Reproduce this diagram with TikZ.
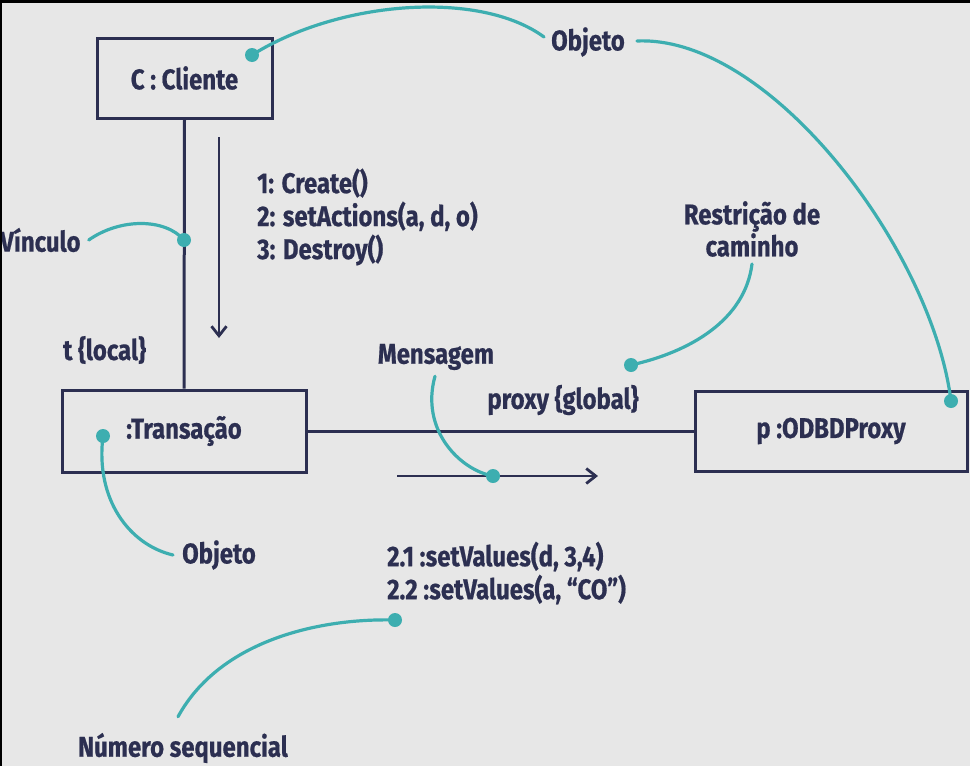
\documentclass[tikz,border=0pt]{standalone}
\usepackage{fontspec}
\setmainfont{Fira Sans}[BoldFont={Fira Sans Bold},FakeStretch=0.84,BoldFeatures={FakeBold=0.6}]
\usetikzlibrary{arrows.meta}
\definecolor{bgc}{HTML}{E7E7E7}
\definecolor{navy}{HTML}{2C2F51}
\definecolor{teal2}{HTML}{3DAEB0}
\tikzset{
  x=1pt,y=-1pt,
  objbox/.style={draw=navy,line width=3pt,inner sep=0pt,text=navy,font=\fontsize{28.5}{30}\selectfont\bfseries},
  lbl/.style={inner sep=0pt,text=navy,font=\fontsize{28.5}{33}\selectfont\bfseries},
  navyline/.style={draw=navy,line width=3pt},
  msgarrow/.style={draw=navy,line width=2.8pt,-{Straight Barb[length=9.5pt,width=15pt,line width=2.8pt]}},
  callout/.style={draw=teal2,line width=3.2pt,line cap=round},
  dotmark/.style={fill=teal2}
}
\begin{document}
\begin{tikzpicture}
\useasboundingbox (0,0) rectangle (970,766);
\fill[bgc] (0,0) rectangle (970,766);

% object boxes
\node[objbox,minimum width=175pt,minimum height=80pt] (cli) at (184.5,78) {C : Cliente};
\node[objbox,minimum width=244pt,minimum height=82pt] (tra) at (184,431) {:Transação};
\node[objbox,minimum width=272pt,minimum height=80pt] (prx) at (831,431) {p :ODBDProxy};

% links
\draw[navyline] (cli.south) -- (tra.north);
\draw[navyline] (tra.east) -- (prx.west);

% message arrows
\coordinate (a1) at (219,137);
\coordinate (a2) at (219,338);
\draw[msgarrow] (a1) -- (a2);
\coordinate (b1) at (397,476);
\coordinate (b2) at (598,476);
\draw[msgarrow] (b1) -- (b2);

% texts
\node[lbl,anchor=west,align=left] (msgs) at (257,217) {1: Create()\\2: setActions(a, d, o)\\3: Destroy()};
\node[lbl,anchor=west] (vinc) at (0,240) {Vínculo};
\node[lbl,anchor=west] (tloc) at (63,350) {t \{local\}};
\node[lbl] (mens) at (436,357) {Mensagem};
\node[lbl] (pglob) at (563,400) {proxy \{global\}};
\node[lbl,align=center,font=\fontsize{28.5}{32}\selectfont\bfseries] (restr) at (752,229) {Restrição de\\caminho};
\node[lbl] (obja) at (588,42) {Objeto};
\node[lbl] (objb) at (219,555) {Objeto};
\node[lbl,anchor=west,align=left] (seq) at (387,573) {2.1 :setValues(d, 3,4)\\2.2 :setValues(a, “CO”)};
\node[lbl] (num) at (183,748) {Número sequencial};

% callout dots
\coordinate (d1) at (252,55);
\coordinate (d2) at (951,401);
\coordinate (d3) at (103,436);
\coordinate (d4) at (631,365);
\coordinate (d5) at (493,476);
\coordinate (d6) at (395,620);
\coordinate (d7) at (184,240);

% callout curves
\draw[callout] (d1) .. controls (340,0) and (480,-10) .. ([xshift=-7pt,yshift=5pt]obja.west);
\draw[callout] ([xshift=12pt,yshift=1pt]obja.east) .. controls (770,35) and (932,250) .. (d2);
\draw[callout] ([xshift=8pt]vinc.east) .. controls (120,218) and (165,218) .. (d7);
\draw[callout] (d3) .. controls (95,500) and (130,545) .. ([xshift=-9pt]objb.west);
\draw[callout] ([yshift=-7pt]restr.south) .. controls (745,320) and (690,352) .. (d4);
\draw[callout] ([xshift=-1pt,yshift=-6pt]mens.south) .. controls (420,430) and (460,470) .. (d5);
\draw[callout] ([xshift=-5pt,yshift=16pt]num.north) .. controls (220,640) and (320,618) .. (d6);

\foreach \d in {d1,d2,d3,d4,d5,d6,d7} \fill[dotmark] (\d) circle (7pt);

% dark frame edges of the screenshot
\fill[black] (0,0) rectangle (970,3);
\fill[black] (0,0) rectangle (2,766);
\end{tikzpicture}
\end{document}
